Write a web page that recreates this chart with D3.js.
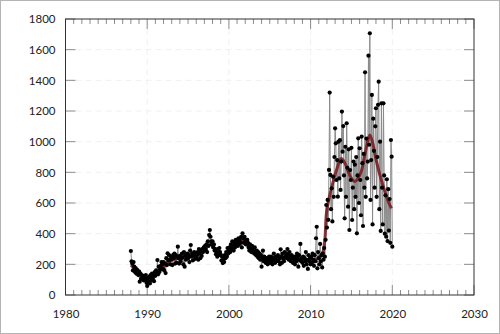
<!DOCTYPE html>
<html><head><meta charset="utf-8">
<script src="https://cdn.jsdelivr.net/npm/d3@7"></script>
<style>
html,body{margin:0;padding:0;background:#fff;}
svg{display:block;}
text{font-family:Lato,"DejaVu Sans",sans-serif;font-size:11.5px;fill:#222;}
</style></head>
<body>
<svg id="c" width="500" height="334"></svg>
<script>
// ---- data ----
const startYear = 1988;
const values = [
 287,220,205,160,215,185,150,175,140,165,150,130,
 155,87,140,105,130,110,125,95,115,100,130,80,
 59,110,85,120,75,130,95,140,110,125,90,150,
 125,160,140,228,135,185,150,165,190,215,200,170,
 215,160,205,143,240,195,272,225,261,230,200,250,
 235,195,260,240,270,205,260,210,250,315,240,205,
 255,220,240,270,245,200,280,185,260,230,250,270,
 240,260,215,290,326,250,270,225,260,280,235,270,
 240,260,280,230,300,270,240,290,255,300,280,310,
 290,320,300,330,280,350,320,391,424,380,350,330,
 350,310,330,290,300,265,280,250,300,260,306,280,
 260,225,250,208,230,215,260,240,280,250,306,270,
 290,310,280,330,300,350,320,290,340,310,360,330,
 350,320,370,330,360,340,380,310,402,370,340,380,
 350,330,360,359,340,310,290,330,300,280,320,290,
 300,270,310,280,260,290,250,280,240,270,230,260,
 185,240,289,220,250,230,210,240,220,200,230,250,
 230,210,250,220,200,240,270,230,210,250,220,240,
 260,220,240,200,298,250,210,270,240,220,280,250,
 270,240,300,260,230,280,250,220,260,240,210,250,
 230,200,250,220,270,240,185,260,230,333,220,240,
 210,250,190,240,220,280,200,230,170,260,220,240,
 200,250,210,270,230,190,260,220,370,445,174,280,
 240,200,333,220,260,180,270,230,306,250,360,587,
 440,620,490,816,1320,783,560,696,480,772,640,900,
 1087,989,750,880,641,1000,760,1010,685,870,1196,935,
 1102,780,500,967,640,1120,830,576,950,424,815,750,
 960,489,700,870,560,850,640,900,402,780,1022,600,
 957,750,520,1033,860,450,920,700,1452,640,1020,760,
 870,1561,980,1707,620,880,1305,460,1150,940,700,1100,
 1218,640,900,1240,1391,560,1000,418,1250,700,460,1250,
 780,400,650,380,755,352,690,420,626,340,1011,902,
 315
];
const smoothYears  = [1988.0,1988.5,1989.0,1989.5,1990.0,1990.5,1991.0,1991.5,1992.0,1992.5,1993.0,1993.5,1994.0,1994.5,1995.0,1995.5,1996.0,1996.5,1997.0,1997.6,1998.0,1998.5,1999.0,1999.5,2000.0,2000.5,2001.0,2001.6,2002.0,2002.5,2003.0,2003.5,2004.0,2004.5,2005.0,2005.5,2006.0,2006.5,2007.0,2007.5,2008.0,2008.5,2009.0,2009.5,2010.0,2010.5,2011.0,2011.45,2011.74,2011.95,2012.3,2012.76,2013.2,2013.75,2014.2,2014.6,2015.0,2015.4,2015.8,2016.2,2016.7,2017.25,2017.6,2018.07,2018.6,2019.1,2019.5,2019.9];
const smoothValues = [195,170,140,115,105,115,135,160,185,210,225,235,240,245,250,255,265,280,305,335,320,290,265,255,275,310,335,350,335,315,285,260,240,225,225,230,235,240,245,245,240,235,228,225,225,230,245,272,358,540,640,740,820,890,860,805,760,740,760,805,930,1044,990,870,760,674,610,565];
const xTicks = [1980,1990,2000,2010,2020,2030];
const yTicks = [0,200,400,600,800,1000,1200,1400,1600,1800];

// ---- chart ----
const svg = d3.select("#c");
const L=65.5, R=474, T=19, B=295;
const x = d3.scaleLinear().domain([1980,2030]).range([L,R]);
const y = d3.scaleLinear().domain([0,1800]).range([B,T]);

svg.append("rect").attr("x",0.5).attr("y",0.5).attr("width",499).attr("height",333)
  .attr("fill","#fff").attr("stroke","#b4b4b4");

// grid
const g = svg.append("g");
g.selectAll(".gx").data(xTicks.slice(1,-1)).enter().append("line")
  .attr("x1",d=>x(d)).attr("x2",d=>x(d)).attr("y1",T).attr("y2",B)
  .attr("stroke","#f0f0f0").attr("stroke-dasharray","6,4");
g.selectAll(".gy").data(yTicks.slice(1,-1)).enter().append("line")
  .attr("y1",d=>y(d)).attr("y2",d=>y(d)).attr("x1",L).attr("x2",R)
  .attr("stroke","#f0f0f0").attr("stroke-dasharray","6,4");

// minor / major ticks (inward)
const years = d3.range(1980,2031);
const tk = svg.append("g").attr("stroke","#8c8c8c");
years.forEach(yr=>{
  const len = yr%10===0 ? 10 : 5;
  tk.append("line").attr("x1",x(yr)).attr("x2",x(yr)).attr("y1",B).attr("y2",B-len);
  tk.append("line").attr("x1",x(yr)).attr("x2",x(yr)).attr("y1",T).attr("y2",T+len);
});
yTicks.forEach(v=>{
  tk.append("line").attr("y1",y(v)).attr("y2",y(v)).attr("x1",L).attr("x2",L+10);
  tk.append("line").attr("y1",y(v)).attr("y2",y(v)).attr("x1",R).attr("x2",R-10);
});

// axes (labels via d3 axes)
const ax = svg.append("g").attr("transform",`translate(0,${B})`)
  .call(d3.axisBottom(x).tickValues(xTicks).tickFormat(d3.format("d")).tickSize(0).tickPadding(15));
const ay = svg.append("g").attr("transform",`translate(${L},0)`)
  .call(d3.axisLeft(y).tickValues(yTicks).tickFormat(d3.format("d")).tickSize(0).tickPadding(10));
[ax,ay].forEach(a=>{a.select(".domain").remove(); a.selectAll("text").attr("font-family","Lato").attr("font-size","11.5px").attr("fill","#222");});

// data
const pts = values.map((v,i)=>({t:startYear+i/12, v}));
const line = d3.line().x(d=>x(d.t)).y(d=>y(d.v));
svg.append("path").datum(pts).attr("d",line).attr("fill","none")
  .attr("stroke","#8a8a8a").attr("stroke-width",1);

const sm = smoothYears.map((t,i)=>({t, v:smoothValues[i]}));
svg.append("path").datum(sm).attr("d",d3.line().x(d=>x(d.t)).y(d=>y(d.v)).curve(d3.curveCatmullRom))
  .attr("fill","none").attr("stroke","#7a1e22").attr("stroke-width",3).attr("stroke-opacity",0.9);

svg.append("g").selectAll("circle").data(pts).enter().append("circle")
  .attr("cx",d=>x(d.t)).attr("cy",d=>y(d.v)).attr("r",2.1).attr("fill","#000");

// frame
svg.append("rect").attr("x",L).attr("y",T).attr("width",R-L).attr("height",B-T)
  .attr("fill","none").attr("stroke","#333").attr("stroke-width",1);
</script>
</body></html>
